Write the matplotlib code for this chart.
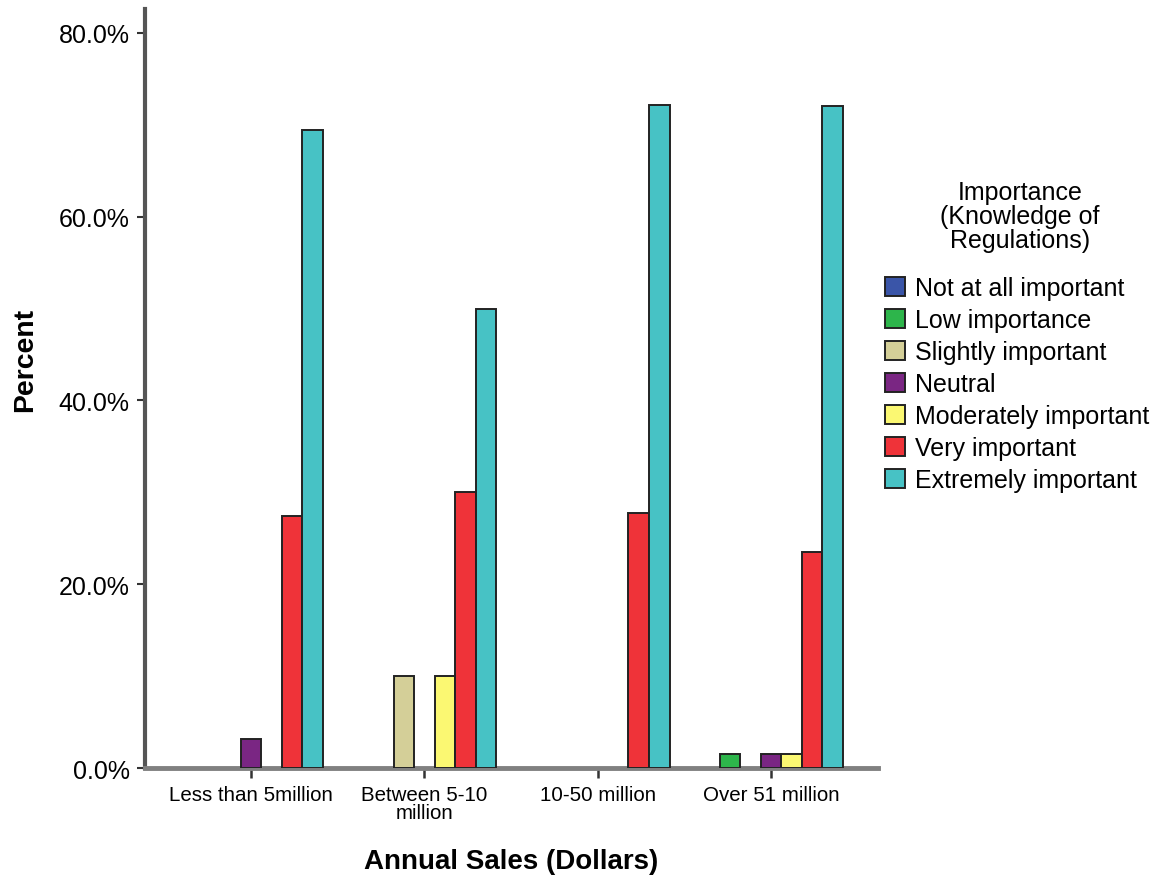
import matplotlib
matplotlib.use("Agg")
import matplotlib.pyplot as plt
import numpy as np
from matplotlib.ticker import FuncFormatter, FixedLocator

plt.rcParams['font.family'] = ['Liberation Sans', 'DejaVu Sans']

categories = ["Less than 5million", "Between 5-10\nmillion", "10-50 million", "Over 51 million"]
series_names = ["Not at all important", "Low importance", "Slightly important", "Neutral",
                "Moderately important", "Very important", "Extremely important"]
not_at_all = [0.0, 0.0, 0.0, 0.0]
low = [0.0, 0.0, 0.0, 1.5]
slightly = [0.0, 10.0, 0.0, 0.0]
neutral = [3.2, 0.0, 0.0, 1.5]
moderately = [0.0, 10.0, 0.0, 1.5]
very = [27.4, 30.0, 27.8, 23.5]
extremely = [69.4, 50.0, 72.2, 72.0]
series_values = [not_at_all, low, slightly, neutral, moderately, very, extremely]
colors = ["#3a55a8", "#2db54b", "#d4cf98", "#7a2683", "#fbf872", "#ef3339", "#47c2c5"]
y_ticks = [0, 20, 40, 60, 80]
legend_title = "Importance\n(Knowledge of\nRegulations)"

fig = plt.figure(figsize=(11.56, 8.79), dpi=100)
ax = fig.add_axes([0.1254, 0.1251, 0.6341, 0.8635])

x = np.arange(len(categories))
n = len(series_names)
w = 0.1185
handles = []
for i, (name, vals, c) in enumerate(zip(series_names, series_values, colors)):
    offs = (i - (n - 1) / 2) * w
    vals = np.asarray(vals)
    keep = vals > 0
    ax.bar(x[keep] + offs, vals[keep], width=w, color=c, edgecolor="#222222",
           linewidth=1.4, zorder=3)
    handles.append(plt.Rectangle((0, 0), 1, 1, facecolor=c, edgecolor="#222222",
                                 linewidth=1.4, label=name))

ax.set_xlim(-0.613, 3.618)
ax.set_ylim(0, 82.6)
ax.yaxis.set_major_locator(FixedLocator(y_ticks))
ax.yaxis.set_major_formatter(FuncFormatter(lambda v, p: f"{v:.1f}%"))
ax.set_xticks(x)
ax.set_xticklabels(categories, fontsize=14.8, linespacing=0.95)
ax.tick_params(axis='y', labelsize=18, length=6, width=1.5, color="#333333", pad=5)
ax.tick_params(axis='x', length=7, width=1.8, color="#333333", pad=5)
for s in ["top", "right"]:
    ax.spines[s].set_visible(False)
ax.spines["left"].set_color("#555555")
ax.spines["left"].set_linewidth(3)
ax.spines["bottom"].set_color("#808080")
ax.spines["bottom"].set_linewidth(3.5)

ax.set_ylabel("Percent", fontsize=20.4, fontweight="bold")
ax.yaxis.set_label_coords(-0.146, 0.539)
ax.set_xlabel("Annual Sales (Dollars)", fontsize=20, fontweight="bold", labelpad=19)

fig.text(0.8825, 0.753, legend_title, ha="center", va="center", fontsize=18,
         multialignment="center", linespacing=1.0)
leg = fig.legend(handles=handles, loc="upper left", bbox_to_anchor=(0.757, 0.696),
                 frameon=False, fontsize=18, handlelength=0.8, handleheight=0.8,
                 handletextpad=0.4, labelspacing=0.32, borderaxespad=0)

fig.savefig("out.png", dpi=100)
